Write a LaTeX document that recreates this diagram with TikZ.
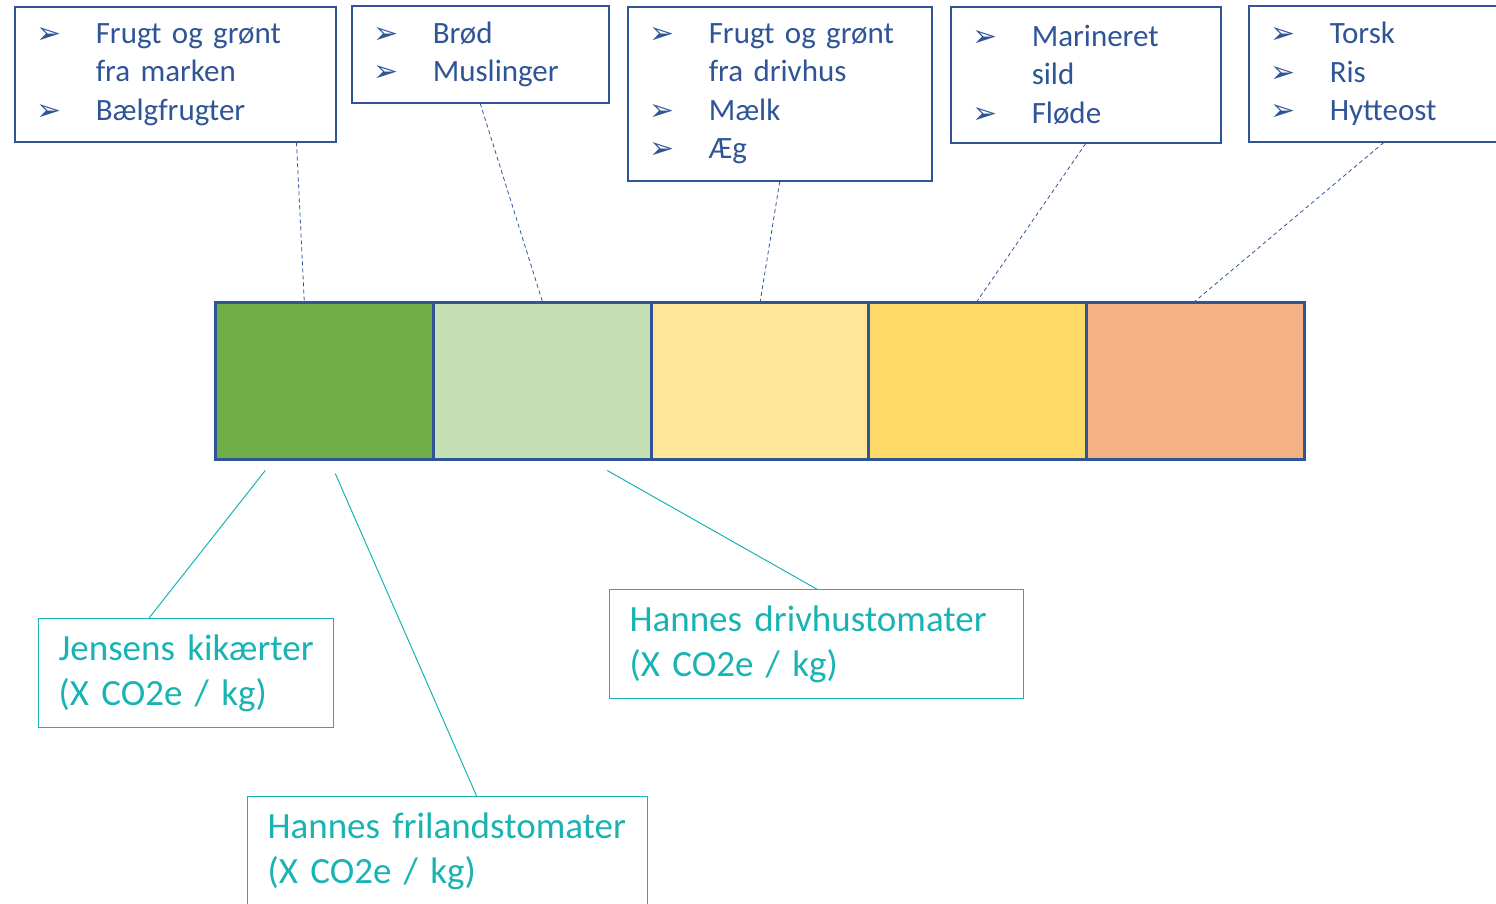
\documentclass[tikz,border=0pt]{standalone}
\usepackage{fontspec}
\setmainfont{Carlito}
\newfontfamily\symbFont{DejaVu Sans}
\usetikzlibrary{calc}
\definecolor{boxBlue}{HTML}{2F5597}
\definecolor{noteTeal}{HTML}{1AB3B3}
\definecolor{segA}{HTML}{70AD47}
\definecolor{segB}{HTML}{C5E0B4}
\definecolor{segC}{HTML}{FFE699}
\definecolor{segD}{HTML}{FFD966}
\definecolor{segE}{HTML}{F4B183}
\newcommand{\pil}{\makebox[59pt][l]{{\symbFont\fontsize{30}{30}\selectfont ➢}}}
\newcommand{\noPil}{\hspace*{59pt}}

\begin{document}
\begin{tikzpicture}[x=1pt,y=-1pt,
    listBox/.style={draw=boxBlue, line width=1.5pt, text=boxBlue, anchor=north west,
      align=left, inner xsep=22pt, font=\fontsize{31}{38.5}\selectfont},
    noteBox/.style={draw=noteTeal, line width=1.2pt, text=noteTeal, anchor=north west,
      align=left, inner xsep=20pt, minimum height=109pt, font=\fontsize{37}{45}\selectfont},
    barSeg/.style={draw=boxBlue, line width=2.5pt, anchor=north west,
      minimum width=218pt, minimum height=157pt, inner sep=0pt},
    dashLine/.style={boxBlue, line width=0.8pt, dash pattern=on 4pt off 3pt},
    noteLine/.style={noteTeal, line width=1pt}]
                \useasboundingbox (0,0) rectangle (1496,903);
                \clip (0,0) rectangle (1496,903);
                \node[listBox, text width=277pt, minimum height=135pt] (box1) at (14,6)
                  {\pil Frugt og grønt\\\noPil fra marken\\\pil Bælgfrugter};
                \node[listBox, text width=213pt, minimum height=97pt] (box2) at (351,5)
                  {\pil Brød\\\pil Muslinger};
                \node[listBox, text width=260pt, minimum height=174pt] (box3) at (627,6)
                  {\pil Frugt og grønt\\\noPil fra drivhus\\\pil Mælk\\\pil Æg};
                \node[listBox, text width=226pt, minimum height=136pt] (box4) at (950,6)
                  {\pil Marineret\\\noPil sild\\\pil Fløde};
                \node[listBox, text width=226pt, minimum height=136pt] (box5) at (1248,5)
                  {\pil Torsk\\\pil Ris\\\pil Hytteost};
                \node[barSeg, fill=segA] (seg1) at (214,301) {};
                \node[barSeg, fill=segB] (seg2) at (432,301) {};
                \node[barSeg, fill=segC] (seg3) at (650,301) {};
                \node[barSeg, fill=segD] (seg4) at (867,301) {};
                \node[barSeg, fill=segE] (seg5) at (1085,301) {};
                \draw[dashLine] ($(box1.south east)+(-40,0)$) -- ($(seg1.north)+(-20,0)$);
                \draw[dashLine] (box2.south) -- (seg2.north);
                \draw[dashLine] (box3.south) -- (seg3.north);
                \draw[dashLine] (box4.south) -- (seg4.north);
                \draw[dashLine] (box5.south) -- (seg5.north);
                \node[noteBox, text width=255pt] (jensens) at (38,618)
                  {\mbox{Jensens kikærter}\\(X CO2e / kg)};
                \node[noteBox, text width=374pt] (drivhus) at (609,589)
                  {Hannes drivhustomater\\(X CO2e / kg)};
                \node[noteBox, text width=360pt] (friland) at (247,796)
                  {Hannes frilandstomater\\(X CO2e / kg)};
                \draw[noteLine] ($(jensens.north)+(-37,0)$) -- ($(seg1.south)+(-59,10)$);
                \draw[noteLine] ($(friland.north)+(29,0)$) -- ($(seg1.south)+(11,13)$);
                \draw[noteLine] (drivhus.north) -- ($(seg2.south)+(65,10)$);
              \end{tikzpicture}
\end{document}
